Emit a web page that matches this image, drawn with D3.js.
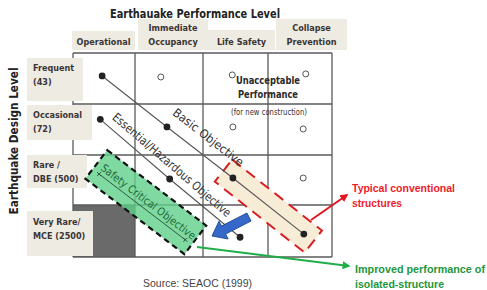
<!DOCTYPE html>
<html>
<head>
<meta charset="utf-8">
<script src="https://cdn.jsdelivr.net/npm/d3@7"></script>
<style>
  body { margin: 0; background: #fff; }
  svg { display: block; }
</style>
</head>
<body>
<svg id="canvas"></svg>
<script>
// performance levels (columns) and design levels (rows)
let colLabels = [['Operational'], ['Immediate', 'Occupancy'], ['Life Safety'], ['Collapse', 'Prevention']]
let rowLabels = [['Frequent', '(43)'], ['Occasional', '(72)'], ['Rare /', 'DBE (500)'], ['Very Rare/', 'MCE (2500)']]

// points in cell units: [column, row]
let basicObjective = [[0.47, 0.45], [1.47, 1.45], [2.46, 2.46], [3.56, 3.56]]
let essentialObjective = [[0.44, 1.30], [1.51, 2.48], [2.57, 3.62]]
let safetyCritical = [[0.42, 2.38], [1.74, 3.67]]
let openPoints = [[1.38, 0.47], [2.45, 0.43], [3.59, 0.41], [2.46, 1.45], [3.55, 1.49], [3.55, 2.46]]

let w = 487
let h = 290

let canvas = d3.select('#canvas')
canvas.attr('width', w).attr('height', h)

let xScale = d3.scaleLinear().domain([0, 1, 2, 3, 4]).range([73, 135, 203, 268, 332])
let yScale = d3.scaleLinear().domain([0, 1, 2, 3, 4]).range([53, 104, 155, 205, 257])

let px = (p) => [xScale(p[0]), yScale(p[1])]

let beige = '#eeebe3'
let textDark = '#3a3434'
let cond = '"DejaVu Sans Condensed", "DejaVu Sans", sans-serif'

let defs = canvas.append('defs')
let marker = (id, color) => {
    defs.append('marker')
        .attr('id', id)
        .attr('viewBox', '0 0 10 10')
        .attr('refX', 8).attr('refY', 5)
        .attr('markerWidth', 4).attr('markerHeight', 4)
        .attr('orient', 'auto')
        .append('path')
        .attr('d', 'M0,0 L10,5 L0,10 z')
        .attr('fill', color)
}
marker('redHead', '#e3161e')
marker('greenHead', '#1fae48')

// title
canvas.append('text')
    .attr('x', 195).attr('y', 18)
    .attr('text-anchor', 'middle')
    .attr('font-family', cond)
    .attr('font-weight', 'bold')
    .attr('font-size', 13)
    .attr('textLength', 170)
    .attr('lengthAdjust', 'spacingAndGlyphs')
    .attr('fill', '#222')
    .text('Earthauake Performance Level')

// column header boxes
let headerTop = [31, 19, 30, 19]
let headerBox = [[72, 135], [138, 208], [208, 275], [276, 347]]
colLabels.forEach((lab, i) => {
    canvas.append('rect')
        .attr('x', headerBox[i][0]).attr('y', headerTop[i])
        .attr('width', headerBox[i][1] - headerBox[i][0])
        .attr('height', 50 - headerTop[i])
        .attr('fill', beige)
    let cx = (headerBox[i][0] + headerBox[i][1]) / 2
    lab.forEach((line, j) => {
        canvas.append('text')
            .attr('x', cx)
            .attr('y', 45 - (lab.length - 1 - j) * 14)
            .attr('text-anchor', 'middle')
            .attr('font-family', cond)
            .attr('font-weight', 'bold')
            .attr('font-size', 9)
            .attr('fill', textDark)
            .text(line)
    })
})

// y axis title
canvas.append('text')
    .attr('transform', 'translate(18,141) rotate(-90)')
    .attr('text-anchor', 'middle')
    .attr('font-family', cond)
    .attr('font-weight', 'bold')
    .attr('font-size', 13)
    .attr('textLength', 147)
    .attr('lengthAdjust', 'spacingAndGlyphs')
    .attr('fill', '#222')
    .text('Earthquake Design Level')

// dark cell: very rare / operational
canvas.append('rect')
    .attr('x', xScale(0)).attr('y', yScale(3))
    .attr('width', xScale(1) - xScale(0))
    .attr('height', yScale(4) - yScale(3))
    .attr('fill', '#6a6a6a')

// grid
let grid = canvas.append('g').attr('stroke', '#5a5a5a').attr('stroke-width', 1.3)
d3.range(5).forEach((i) => {
    grid.append('line')
        .attr('x1', xScale(i)).attr('x2', xScale(i))
        .attr('y1', yScale(0)).attr('y2', yScale(4))
    grid.append('line')
        .attr('x1', xScale(0)).attr('x2', xScale(4))
        .attr('y1', yScale(i)).attr('y2', yScale(i))
})

// row header boxes
let rowBox = [[58, 101, 83], [105, 140, 92], [155, 188, 87], [211, 256, 93]]
rowLabels.forEach((lab, i) => {
    canvas.append('rect')
        .attr('x', 27).attr('y', rowBox[i][0])
        .attr('width', rowBox[i][2] - 27)
        .attr('height', rowBox[i][1] - rowBox[i][0])
        .attr('fill', beige)
    lab.forEach((line, j) => {
        canvas.append('text')
            .attr('x', 33)
            .attr('y', rowBox[i][0] + (i == 3 ? 14 : 13) + j * 13.5)
            .attr('font-family', cond)
            .attr('font-weight', 'bold')
            .attr('font-size', 9)
            .attr('fill', textDark)
            .text(line)
    })
})

// unacceptable performance
canvas.append('text')
    .attr('x', 268).attr('y', 84)
    .attr('text-anchor', 'middle')
    .attr('font-family', cond)
    .attr('font-weight', 'bold')
    .attr('font-size', 11)
    .attr('textLength', 64)
    .attr('lengthAdjust', 'spacingAndGlyphs')
    .attr('fill', '#2a2a2a')
    .text('Unacceptable')
canvas.append('text')
    .attr('x', 268).attr('y', 98)
    .attr('text-anchor', 'middle')
    .attr('font-family', cond)
    .attr('font-weight', 'bold')
    .attr('font-size', 11)
    .attr('textLength', 60)
    .attr('lengthAdjust', 'spacingAndGlyphs')
    .attr('fill', '#2a2a2a')
    .text('Performance')
canvas.append('text')
    .attr('x', 269).attr('y', 115)
    .attr('text-anchor', 'middle')
    .attr('font-family', cond)
    .attr('font-size', 8)
    .attr('textLength', 76)
    .attr('lengthAdjust', 'spacingAndGlyphs')
    .attr('fill', '#333')
    .text('(for new construction)')

// rotated band helper
let band = (p0, p1, pad, off, width) => {
    let a = px(p0), b = px(p1)
    let ang = Math.atan2(b[1] - a[1], b[0] - a[0]) * 180 / Math.PI
    let len = Math.hypot(b[0] - a[0], b[1] - a[1])
    let g = canvas.append('g')
        .attr('transform', 'translate(' + ((a[0] + b[0]) / 2) + ',' + ((a[1] + b[1]) / 2) + ') rotate(' + ang + ')')
    return g.append('rect')
        .attr('x', -len / 2 - pad).attr('y', off - width / 2)
        .attr('width', len + 2 * pad).attr('height', width)
}

// typical conventional structures band
band(basicObjective[2], basicObjective[3], 12, 0, 28)
    .attr('fill', '#f7ecd6')
    .attr('stroke', '#d91d22')
    .attr('stroke-width', 2)
    .attr('stroke-dasharray', '11,7')

// safety critical band
band(safetyCritical[0], safetyCritical[1], 8, -6, 36)
    .attr('fill', '#5fcf8a')
    .attr('fill-opacity', 0.8)
    .attr('stroke', '#111')
    .attr('stroke-width', 2.2)
    .attr('stroke-dasharray', '6,4')

// objective lines
let line = d3.line().x((d) => xScale(d[0])).y((d) => yScale(d[1]))
;[basicObjective, essentialObjective].forEach((s) => {
    canvas.append('path')
        .attr('d', line(s))
        .attr('fill', 'none')
        .attr('stroke', '#555')
        .attr('stroke-width', 1.1)
})
canvas.append('path')
    .attr('d', line(safetyCritical))
    .attr('fill', 'none')
    .attr('stroke', '#2d5a3a')
    .attr('stroke-width', 1)
safetyCritical.forEach((d) => {
    let p = px(d)
    canvas.append('path')
        .attr('d', 'M' + (p[0] - 2) + ',' + (p[1] - 2) + 'l4,4 M' + (p[0] + 2) + ',' + (p[1] - 2) + 'l-4,4')
        .attr('stroke', '#2d5a3a')
        .attr('stroke-width', 1)
})

// dots
canvas.selectAll('circle.filled')
    .data(basicObjective.concat(essentialObjective))
    .enter()
    .append('circle')
    .attr('class', 'filled')
    .attr('cx', (d) => xScale(d[0]))
    .attr('cy', (d) => yScale(d[1]))
    .attr('r', 3.4)
    .attr('fill', '#222')
canvas.selectAll('circle.open')
    .data(openPoints)
    .enter()
    .append('circle')
    .attr('class', 'open')
    .attr('cx', (d) => xScale(d[0]))
    .attr('cy', (d) => yScale(d[1]))
    .attr('r', 3)
    .attr('fill', '#fff')
    .attr('stroke', '#555')
    .attr('stroke-width', 1)

// labels along the lines
let alongLabel = (s, i, along, off, txt, len, color, size) => {
    let a = px(s[i]), b = px(s[i + 1])
    let ang = Math.atan2(b[1] - a[1], b[0] - a[0])
    let cx = a[0] + along * Math.cos(ang)
    let cy = a[1] + along * Math.sin(ang)
    canvas.append('text')
        .attr('transform', 'translate(' + cx + ',' + cy + ') rotate(' + (ang * 180 / Math.PI) + ')')
        .attr('y', off)
        .attr('text-anchor', 'middle')
        .attr('font-family', cond)
        .attr('font-size', size)
        .attr('textLength', len)
        .attr('lengthAdjust', 'spacingAndGlyphs')
        .attr('fill', color)
        .text(txt)
}
alongLabel(basicObjective, 1, 39, -13, 'Basic Objective', 86, '#333', 12)
alongLabel(essentialObjective, 0, 84, -8, 'Essential/Hazardous Objective', 152, '#333', 12)
alongLabel(safetyCritical, 0, 56, -4, 'Safety Critical Objective', 116, '#1d6a38', 11)

// blue arrow
let tail = [249, 217], tip = [212, 236]
let bAng = Math.atan2(tip[1] - tail[1], tip[0] - tail[0]) * 180 / Math.PI
let bLen = Math.hypot(tip[0] - tail[0], tip[1] - tail[1])
canvas.append('path')
    .attr('transform', 'translate(' + tail[0] + ',' + tail[1] + ') rotate(' + bAng + ')')
    .attr('d', 'M0,-4.5 L' + (bLen - 13) + ',-4.5 L' + (bLen - 13) + ',-10 L' + bLen + ',0 L' + (bLen - 13) + ',10 L' + (bLen - 13) + ',4.5 L0,4.5 z')
    .attr('fill', '#3568c8')
    .attr('stroke', '#1d468f')
    .attr('stroke-width', 0.8)

// callout arrows
canvas.append('line')
    .attr('x1', 311).attr('y1', 220).attr('x2', 347).attr('y2', 195)
    .attr('stroke', '#e3161e').attr('stroke-width', 2)
    .attr('marker-end', 'url(#redHead)')
canvas.append('line')
    .attr('x1', 197).attr('y1', 247).attr('x2', 349).attr('y2', 266)
    .attr('stroke', '#1fae48').attr('stroke-width', 2)
    .attr('marker-end', 'url(#greenHead)')

let note = (x, y, txt, len, color) => {
    canvas.append('text')
        .attr('x', x).attr('y', y)
        .attr('font-family', '"Liberation Sans", Arial, sans-serif')
        .attr('font-weight', 'bold')
        .attr('font-size', 11)
        .attr('textLength', len)
        .attr('lengthAdjust', 'spacingAndGlyphs')
        .attr('fill', color)
        .text(txt)
}
note(352, 192, 'Typical conventional', 103, '#ef1c2a')
note(352, 207, 'structures', 50, '#ef1c2a')
note(355, 273, 'Improved performance of', 130, '#22973c')
note(355, 288, 'isolated-structure', 89, '#22973c')

canvas.append('text')
    .attr('x', 143).attr('y', 287)
    .attr('font-family', '"Liberation Sans", Arial, sans-serif')
    .attr('font-size', 11)
    .attr('textLength', 109)
    .attr('lengthAdjust', 'spacingAndGlyphs')
    .attr('fill', '#444')
    .text('Source: SEAOC (1999)')
</script>
</body>
</html>
